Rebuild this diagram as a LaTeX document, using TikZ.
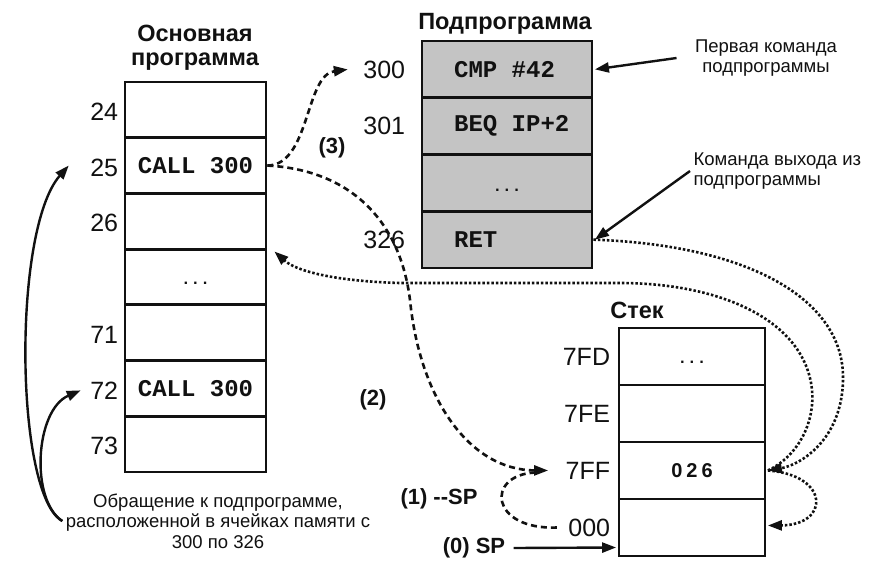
\documentclass[tikz,border=0pt]{standalone}
\usepackage{fontspec}
\setmainfont{Liberation Sans}
\setmonofont{Liberation Mono}
\newfontfamily\spacedfont[LetterSpace=20]{Liberation Sans}
\usetikzlibrary{calc,arrows.meta}
\definecolor{ink}{HTML}{111111}
\definecolor{subfill}{HTML}{C4C4C4}
\tikzset{
  cell/.style={draw=ink, line width=2.8pt, inner sep=0pt},
  maincell/.style={cell, minimum width=141pt, minimum height=55.7pt},
  subcell/.style={cell, fill=subfill, minimum width=170pt, minimum height=56.75pt},
  stackcell/.style={cell, minimum width=146pt, minimum height=57pt},
  code/.style={text=ink, font=\fontsize{24}{26}\selectfont\ttfamily\bfseries},
  dots/.style={text=ink, font=\fontsize{16}{18}\selectfont\ttfamily\bfseries},
  addr/.style={text=ink, anchor=east, font=\fontsize{25}{27}\selectfont},
  title/.style={text=ink, align=center, font=\fontsize{23.5}{24}\selectfont\bfseries},
  steplab/.style={text=ink, font=\fontsize{22}{24}\selectfont\bfseries},
  note/.style={text=ink, font=\fontsize{18.5}{20.5}\selectfont},
  arr/.style={-{Triangle[length=14pt,width=10pt]}},
  plainline/.style={draw=ink, line width=2.4pt},
  callline/.style={draw=ink, line width=2.6pt, dash pattern=on 6pt off 4pt},
  retline/.style={draw=ink, line width=2.6pt, dash pattern=on 2.5pt off 2pt},
}
\begin{document}
\begin{tikzpicture}[x=1pt, y=-1pt]
  \useasboundingbox[fill=white] (0,0) rectangle (885,578);
  % memory cells
  \foreach \i in {1,...,7}
    \node[maincell] (m\i) at (195.5, {109.85+(\i-1)*55.7}) {};
  \foreach \i in {1,...,4}
    \node[subcell] (s\i) at (507, {69.4+(\i-1)*56.75}) {};
  \foreach \i in {1,...,4}
    \node[stackcell] (k\i) at (692, {356.5+(\i-1)*57}) {};
  % titles
  \node[title] (tmain) at (195,48) {Основная\\программа};
  \node[title] (tsub) at (505,24) {Подпрограмма};
  \node[title] (tstack) at (637,310) {Стек};
  % contents
  \node[code] (c25) at (m2) {CALL 300};
  \node[dots] (d1) at ([yshift=-6pt]m4.center) {...};
  \node[code] (c72) at (m6) {CALL 300};
  \node[code, anchor=west] (c300) at ([xshift=30pt]s1.west) {CMP \#42};
  \node[code, anchor=west] (c301) at ([xshift=30pt]s2.west) {BEQ IP+2};
  \node[dots] (d2) at ([yshift=-7pt]s3.center) {...};
  \node[code, anchor=west] (c326) at ([xshift=30pt]s4.west) {RET};
  \node[dots] (d3) at ([yshift=-6pt]k1.center) {...};
  \node[text=ink, font=\fontsize{20}{22}\selectfont\spacedfont\bfseries] (c7ff) at (k3) {026};
  % addresses
  \foreach \i/\a in {1/24,2/25,3/26,5/71,6/72,7/73}
    \node[addr] (a\a) at ([xshift=-2pt,yshift=-2pt]m\i.west) {\a};
  \foreach \i/\a in {1/300,2/301,4/326}
    \node[addr] (a\a) at ([xshift=-12pt]s\i.west) {\a};
  \foreach \i/\a in {1/7fd,2/7fe,3/7ff,4/000}
    \node[addr] (a\a) at ([xshift=-4pt]k\i.west) {\MakeUppercase{\a}};
  % notes
  \node[note, align=center] (n1) at (766,58) {Первая команда\\подпрограммы};
  \node[note, align=left, anchor=west] (n2) at (690,171) {Команда выхода из\\подпрограммы};
  \node[note, align=center] (n3) at (218,521) {Обращение к подпрограмме,\\расположенной в ячейках памяти с\\300 по 326};
  \node[steplab] (st3) at (332,148) {(3)};
  \node[steplab] (st2) at (373,400) {(2)};
  \node[steplab] (st1) at (439,499) {(1) \mbox{-}\mbox{-}SP};
  \node[steplab] (st0) at (474,548) {(0) SP};
  % plain arrows
  \draw[plainline, arr] ([xshift=-15pt]n1.west) -- ([xshift=1.5pt]s1.east);
  \draw[plainline, arr] (n2.west) -- ([xshift=1.5pt]s4.east);
  \draw[plainline, arr] ([xshift=5pt]st0.east) -- ([xshift=-1.5pt,yshift=-20pt]k4.west);
  \draw[plainline, arr] (n3.west) .. controls (15,495) and (12,230) .. ([xshift=-18pt,yshift=2pt]a25.west);
  \draw[plainline, arr] (n3.west) .. controls (30,500) and (35,410) .. ([xshift=-6pt]a72.west);
  % call
  \draw[callline, arr] (m2.east) .. controls (310,165) and (305,75) .. ([xshift=-12pt]a300.west);
  \draw[callline, arr] (m2.east) .. controls (350,170) and (400,220) .. (410,300)
    .. controls (420,400) and (470,470) .. ([xshift=-14pt]a7ff.west);
  \draw[callline] ([xshift=-8pt]a000.west) .. controls (490,530) and (485,475) .. ([xshift=-27pt,yshift=-2pt]a7ff.west);
  % return
  \coordinate (back26) at ([xshift=7pt,yshift=-1pt]m3.south east);
  \draw[retline, arr] (s4.east) .. controls (750,245) and (845,300) .. (843,380)
    .. controls (842,440) and (800,465) .. ([xshift=1.5pt]k3.east);
  \draw[retline, arr] ([xshift=1.5pt]k3.east) .. controls (800,455) and (815,420) .. (812,390)
    .. controls (805,320) and (720,283) .. (620,283) -- (400,283)
    .. controls (330,281) and (295,270) .. (back26);
  \draw[retline, arr] ([xshift=1.5pt]k3.east) .. controls (830,475) and (830,525) .. ([xshift=1.5pt,yshift=2pt]k4.east);
\end{tikzpicture}
\end{document}
